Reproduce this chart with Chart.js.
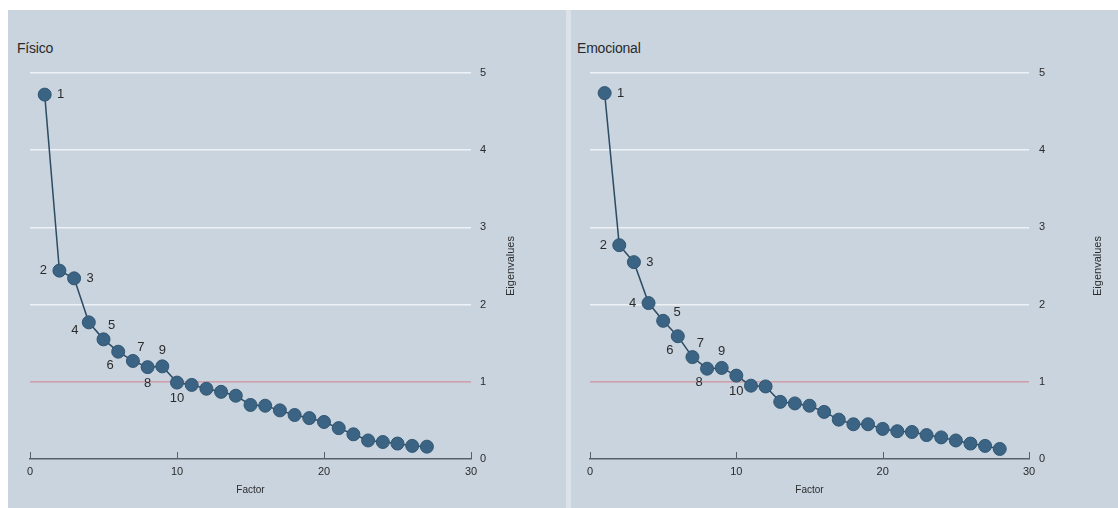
<!DOCTYPE html>
<html>
<head>
<meta charset="utf-8">
<script src="https://cdn.jsdelivr.net/npm/chart.js@4.4.1/dist/chart.umd.min.js"></script>
<style>
  html, body { margin: 0; padding: 0; background: #ffffff; }
  body { width: 1118px; height: 508px; position: relative; overflow: hidden;
         font-family: "Liberation Sans", Arial, sans-serif; }
  .panel { position: absolute; top: 10px; height: 498px; background: #c9d4df; }
  .panel h2 { position: absolute; margin: 0; top: 30px; font-weight: normal;
              font-size: 14px; color: #2a2a2a; letter-spacing: -0.2px; }
  .gap { position: absolute; top: 10px; height: 498px; left: 566px; width: 5px; background: #dbe2ea; }
  canvas { position: absolute; left: 0; top: 0; }
</style>
</head>
<body>
<div class="panel" style="left:8px;width:558px;">
  <h2 style="left:9px;">Físico</h2>
  <canvas id="fisico" width="558" height="498"></canvas>
</div>
<div class="gap"></div>
<div class="panel" style="left:571px;width:547px;">
  <h2 style="left:6px;">Emocional</h2>
  <canvas id="emocional" width="547" height="498"></canvas>
</div>

<script>
// Eigenvalues per factor (scree plots)
const fisicoFactors = [1, 2, 3, 4, 5, 6, 7, 8, 9, 10, 11, 12, 13, 14, 15, 16, 17, 18, 19, 20, 21, 22, 23, 24, 25, 26, 27];
const fisicoEigen = [4.72, 2.44, 2.34, 1.77, 1.55, 1.39, 1.27, 1.19, 1.20, 0.99,
                     0.96, 0.91, 0.87, 0.82, 0.70, 0.69, 0.63, 0.57, 0.53, 0.48,
                     0.40, 0.32, 0.24, 0.22, 0.20, 0.17, 0.16];

const emocionalFactors = [1, 2, 3, 4, 5, 6, 7, 8, 9, 10, 11, 12, 13, 14, 15, 16, 17, 18, 19, 20, 21, 22, 23, 24, 25, 26, 27, 28];
const emocionalEigen = [4.74, 2.77, 2.55, 2.02, 1.79, 1.59, 1.32, 1.17, 1.18, 1.08,
                        0.95, 0.94, 0.74, 0.72, 0.69, 0.61, 0.51, 0.45, 0.45, 0.39,
                        0.36, 0.35, 0.31, 0.28, 0.24, 0.20, 0.17, 0.13];

const xTickValues = [0, 10, 20, 30];
const yTickValues = [0, 1, 2, 3, 4, 5];
const kaiserCutoff = 1;          // eigenvalue = 1 reference line
const labelledFactorCount = 10;  // first factors get their number printed

// clock position of each factor label around its marker
const fisicoLabelClock = [3, 9, 3, 8, 1, 7, 1, 6, 12, 6];
const emocionalLabelClock = [3, 9, 3, 9, 2, 7, 1, 7, 12, 6];

const TEXT = '#2b2b2b';
const FONT = '"Liberation Sans", Arial, sans-serif';

const screeDecor = {
  id: 'screeDecor',
  afterDatasetsDraw(chart, args, opts) {
    const ctx = chart.ctx;
    const meta = chart.getDatasetMeta(0);
    const factors = chart.data.datasets[0].data;
    ctx.save();
    ctx.fillStyle = TEXT;
    ctx.font = '13px ' + FONT;
    ctx.textAlign = 'center';
    ctx.textBaseline = 'middle';
    for (let i = 0; i < labelledFactorCount && i < meta.data.length; i++) {
      const pt = meta.data[i];
      const clock = opts.clock[i];
      const ang = clock / 12 * Math.PI * 2;
      const r = 16;
      ctx.fillText(String(factors[i].x), pt.x + Math.sin(ang) * r, pt.y - Math.cos(ang) * r);
    }
    ctx.restore();
  },
  afterDraw(chart, args, opts) {
    const ctx = chart.ctx;
    const xs = chart.scales.x;
    const area = chart.chartArea;
    ctx.save();
    // inward tick marks on the factor axis
    ctx.strokeStyle = '#56606b';
    ctx.lineWidth = 1;
    xTickValues.forEach(v => {
      const px = Math.round(xs.getPixelForValue(v)) + 0.5;
      ctx.beginPath();
      ctx.moveTo(px, area.bottom);
      ctx.lineTo(px, area.bottom - 7);
      ctx.stroke();
    });
    // vertical axis title, reading bottom to top
    ctx.translate(area.right + opts.titleOffset, (area.top + area.bottom) / 2);
    ctx.rotate(-Math.PI / 2);
    ctx.fillStyle = TEXT;
    ctx.font = '11px ' + FONT;
    ctx.textAlign = 'center';
    ctx.textBaseline = 'middle';
    ctx.fillText('Eigenvalues', 0, 0);
    ctx.restore();
  }
};

function makeScree(canvasId, factors, eigen, clock, geom) {
  const points = factors.map((f, i) => ({ x: f, y: eigen[i] }));
  const cutoff = [{ x: xTickValues[0], y: kaiserCutoff }, { x: xTickValues[xTickValues.length - 1], y: kaiserCutoff }];
  return new Chart(document.getElementById(canvasId), {
    type: 'line',
    data: {
      datasets: [
        {
          data: points,
          borderColor: '#2d4b63',
          borderWidth: 1.5,
          pointRadius: 6.5,
          pointBorderWidth: 1,
          pointBackgroundColor: '#3b6384',
          pointBorderColor: '#315671',
          tension: 0,
          order: 1
        },
        {
          data: cutoff,
          borderColor: '#d1919d',
          borderWidth: 1.3,
          pointRadius: 0,
          order: 2
        }
      ]
    },
    options: {
      responsive: false,
      animation: false,
      devicePixelRatio: 1,
      layout: { padding: { left: geom.left, top: 63, right: 0, bottom: 0 } },
      plugins: {
        legend: { display: false },
        tooltip: { enabled: false },
        screeDecor: { clock: clock, titleOffset: geom.titleOffset }
      },
      scales: {
        x: {
          type: 'linear',
          position: 'bottom',
          min: xTickValues[0],
          max: xTickValues[xTickValues.length - 1],
          afterBuildTicks: s => { s.ticks = xTickValues.map(v => ({ value: v })); },
          ticks: { color: TEXT, font: { size: 11, family: FONT }, padding: 6, maxRotation: 0 },
          grid: { display: false, drawTicks: false },
          border: { display: true, color: '#56606b', width: 1.5 },
          title: { display: true, text: 'Factor', color: TEXT, font: { size: 10, family: FONT },
                   padding: { top: 0, bottom: 12 } },
          afterFit: s => { s.height = 49; }
        },
        y: {
          type: 'linear',
          position: 'right',
          min: yTickValues[0],
          max: yTickValues[yTickValues.length - 1],
          afterBuildTicks: s => { s.ticks = yTickValues.map(v => ({ value: v })); },
          ticks: { color: TEXT, font: { size: 11, family: FONT }, padding: geom.tickPad },
          grid: {
            drawTicks: false,
            lineWidth: 1.5,
            color: c => (c.tick && c.tick.value > kaiserCutoff) ? '#eef2f7' : 'rgba(0,0,0,0)'
          },
          border: { display: false },
          afterFit: s => { s.width = geom.axisWidth; }
        }
      }
    },
    plugins: [screeDecor]
  });
}

makeScree('fisico', fisicoFactors, fisicoEigen, fisicoLabelClock,
          { left: 22, axisWidth: 95, tickPad: 9, titleOffset: 40 });
makeScree('emocional', emocionalFactors, emocionalEigen, emocionalLabelClock,
          { left: 19, axisWidth: 89, tickPad: 10, titleOffset: 69 });
</script>
</body>
</html>
